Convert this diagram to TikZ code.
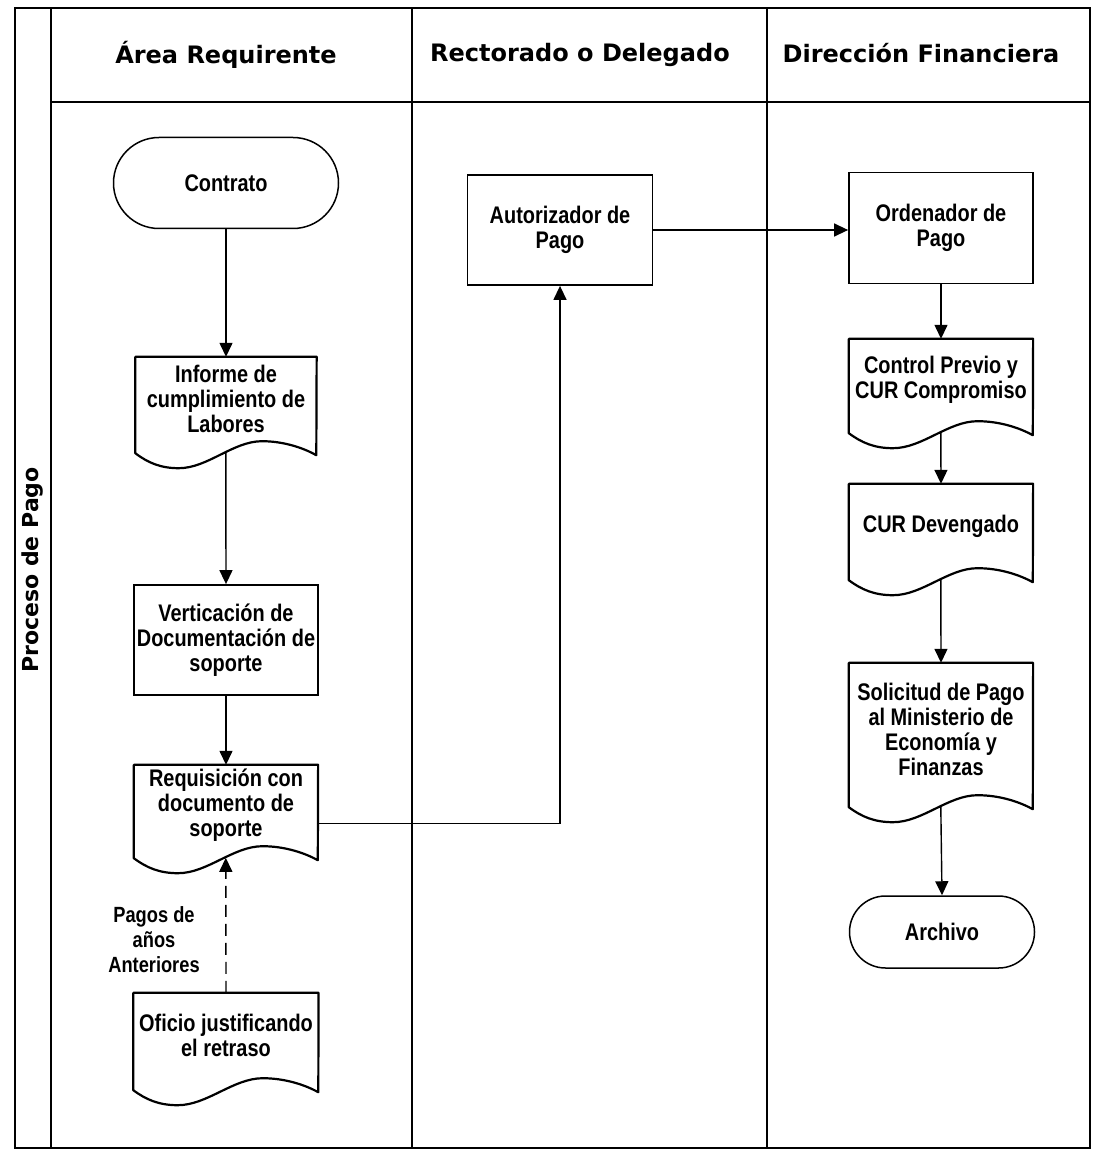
\documentclass[tikz,border=0pt]{standalone}
\usepackage{fontspec}
\usetikzlibrary{arrows.meta,shapes.misc,calc}
\newfontfamily\bodyfont{Liberation Sans}[FakeStretch=0.83]
\newfontfamily\headfont{DejaVu Sans}

\tikzset{
  outer/.style={line width=2pt},
  lanesep/.style={line width=1.3pt},
  lanetitle/.style={font=\headfont\bfseries\fontsize{24}{28}\selectfont, inner sep=0pt},
  txt/.style={font=\bodyfont\bfseries\fontsize{24}{25}\selectfont, align=center, inner sep=0pt},
  procbox/.style={txt, draw, line width=1.8pt},
  termbox/.style={txt, draw, line width=1.5pt, rounded rectangle},
  docline/.style={line width=2.2pt, line join=round},
  arr/.style={line width=1.4pt, -{Triangle[length=14pt,width=13pt]}},
  dasharr/.style={arr, dash pattern=on 12pt off 7pt},
}

% document symbol: name, centre x, top y, width, lowest point of the wave, text
\newcommand{\mkdoc}[6]{%
  \node[txt, minimum width=#4pt, minimum height={(#5-#3-27)*1pt}]
    (#1) at (#2,{(#3+#5-27)/2}) {#6};
  \begin{scope}[shift={(#1.south west)}, xscale=#4, yscale=27]
    \draw[docline] (#1.north west) -- (#1.north east) -- (1,0.52)
      .. controls (0.93,0.25) and (0.82,0) .. (0.70,0)
      .. controls (0.54,0) and (0.40,1) .. (0.24,1)
      .. controls (0.14,1) and (0.07,0.8) .. (0,0.444) -- cycle;
    \coordinate (#1-out) at (0.5,0.43);
  \end{scope}
}

\begin{document}
\begin{tikzpicture}[x=1pt,y=-1pt]
  \useasboundingbox (0,0) rectangle (1098,1158);
  \fill[white] (0,0) rectangle (1098,1158);

  % pool frame and lanes
  \draw[outer] (15,8) rectangle (1090,1148);
  \draw[lanesep] (51,8) -- (51,1148);
  \draw[lanesep] (51,102) -- (1090,102);
  \draw[lanesep] (412,8) -- (412,1148);
  \draw[lanesep] (767,8) -- (767,1148);

  \node[lanetitle] (t1) at (226,55) {Área Requirente};
  \node[lanetitle] (t2) at (580,55) {Rectorado o Delegado};
  \node[lanetitle] (t3) at (921,53) {Dirección Financiera};
  \node[lanetitle, font=\headfont\bfseries\fontsize{22}{26}\selectfont, rotate=90] (pool) at (33,570) {Proceso de Pago};

  % Área Requirente
  \node[termbox, minimum width=225pt, minimum height=91pt] (con) at (226,183) {Contrato};
  \mkdoc{inf}{226}{357}{181}{468}{Informe de\\cumplimiento de\\Labores}
  \node[procbox, minimum width=184pt, minimum height=110pt] (ver) at (226,640) {Verticación de\\Documentación de\\soporte};
  \mkdoc{req}{226}{765}{184}{873}{Requisición con\\documento de\\soporte}
  \mkdoc{ofi}{226}{993}{185}{1105}{Oficio justificando\\el retraso}
  \node[txt, font=\bodyfont\bfseries\fontsize{22}{25}\selectfont] (lbl) at (154,940) {Pagos de\\años\\Anteriores};

  % Rectorado o Delegado
  \node[procbox, minimum width=185pt, minimum height=110pt] (aut) at (560,230) {Autorizador de\\Pago};

  % Dirección Financiera
  \node[procbox, minimum width=184pt, minimum height=111pt] (ord) at (941,228) {Ordenador de\\Pago};
  \mkdoc{ctl}{941}{339}{184}{448}{Control Previo y\\CUR Compromiso}
  \mkdoc{cur}{941}{484}{184}{595}{CUR Devengado}
  \mkdoc{sol}{941}{663}{184}{822}{Solicitud de Pago\\al Ministerio de\\Economía y\\Finanzas}
  \node[termbox, minimum width=185pt, minimum height=72pt] (arc) at (942,932) {Archivo};

  % flow
  \draw[arr] (con.south) -- (inf.north);
  \draw[arr] (inf-out) -- (ver.north);
  \draw[arr] (ver.south) -- (req.north);
  \draw[dasharr] (ofi.north) -- (req-out);
  \draw[arr] ([yshift=-18pt]req.east) -| (aut.south);
  \draw[arr] (aut.east) -- (aut.east -| ord.west);
  \draw[arr] (ord.south) -- (ctl.north);
  \draw[arr] (ctl-out) -- (cur.north);
  \draw[arr] (cur-out) -- (sol.north);
  \draw[arr] (sol-out) -- (arc.north);
\end{tikzpicture}
\end{document}
